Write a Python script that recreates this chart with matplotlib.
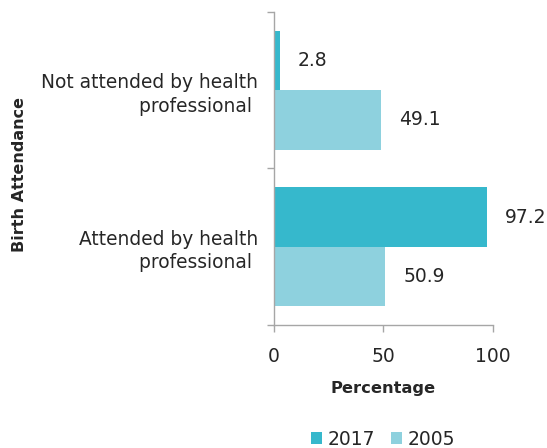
import matplotlib
matplotlib.use("Agg")
import matplotlib.pyplot as plt
import numpy as np

categories = ["Not attended by health\nprofessional ", "Attended by health\nprofessional "]
series_names = ["2017", "2005"]
values_2017 = [2.8, 97.2]
values_2005 = [49.1, 50.9]
x_ticks = [0, 50, 100]

c2017 = "#36B8CC"
c2005 = "#8ED1DE"
txt = "#262626"
grey = "#a6a6a6"

plt.rcParams['font.family'] = ['DejaVu Sans']

fig = plt.figure(figsize=(5.47, 4.48), dpi=100)
ax = fig.add_axes([273.5/547, 1-325/448, (493-273.5)/547, (325-12)/448])

y = np.arange(len(categories))
h = 0.38
b1 = ax.barh(y - h/2, values_2017, height=h, color=c2017, label=series_names[0])
b2 = ax.barh(y + h/2, values_2005, height=h, color=c2005, label=series_names[1])

ax.bar_label(b1, labels=[f"{v:.1f}" for v in values_2017], padding=13, fontsize=13.5, color=txt)
ax.bar_label(b2, labels=[f"{v:.1f}" for v in values_2005], padding=13, fontsize=13.5, color=txt)

ax.set_xlim(0, 100)
ax.set_ylim(len(categories) - 0.5, -0.5)
ax.set_xticks(x_ticks)
ax.set_xticklabels([str(t) for t in x_ticks], fontsize=13.5, color=txt)
ax.set_yticks(np.arange(len(categories) + 1) - 0.5)
ax.set_yticklabels([])
ax.set_yticks(y, categories, minor=True)
for lbl in ax.get_yticklabels(minor=True):
    lbl.set_fontsize(13.4)
    lbl.set_color(txt)
    lbl.set_linespacing(1.3)

ax.tick_params(axis='y', which='major', length=5, width=1, color=grey, direction='out')
ax.tick_params(axis='y', which='minor', length=0, pad=11)
ax.tick_params(axis='x', length=5, width=1, color=grey, direction='out', pad=11)

for s in ['top', 'right']:
    ax.spines[s].set_visible(False)
for s in ['left', 'bottom']:
    ax.spines[s].set_color(grey)
    ax.spines[s].set_linewidth(1)

fig.text(383/547, 1-388/448, "Percentage", ha='center', va='center', fontsize=11.7, fontweight='bold', color=txt)
fig.text(20/547, 1-175/448, "Birth Attendance", ha='center', va='center', rotation=90, fontsize=11.5, fontweight='bold', color=txt)

fig.legend(handles=[b1, b2], labels=series_names, loc='center', bbox_to_anchor=(383/547, 1-439/448),
           ncol=2, frameon=False, handlelength=0.6, handleheight=0.6, handletextpad=0.3,
           columnspacing=0.8, fontsize=13.5, labelcolor=txt)

fig.savefig("out.png", dpi=100)
